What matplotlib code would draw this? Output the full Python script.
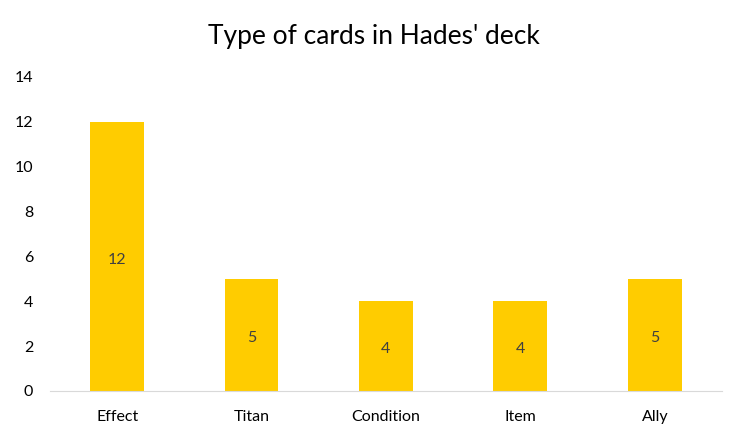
import matplotlib.pyplot as plt

# Data
categories = ["Effect", "Titan", "Condition", "Item", "Ally"]
counts = [12, 5, 4, 4, 5]
y_ticks = [0, 2, 4, 6, 8, 10, 12, 14]

bar_color = "#FFCC00"
text_color = "#404040"

plt.rcParams['font.family'] = ['Lato', 'DejaVu Sans']

fig = plt.figure(figsize=(7.47, 4.41), dpi=100)
ax = fig.add_axes([0.0669, 0.1134, 0.8996, 0.712])

x = range(len(categories))
bars = ax.bar(x, counts, width=0.4, color=bar_color, zorder=2)

# Value labels centred in each bar
for xi, v in zip(x, counts):
    ax.text(xi, v / 2 - 0.15, str(v), ha="center", va="center", fontsize=11.5, color=text_color)

ax.set_xlim(-0.5, len(categories) - 0.5)
ax.set_ylim(0, 14)
ax.set_xticks(list(x))
ax.set_xticklabels(categories, fontsize=11.5, color="#000000")
ax.set_yticks(y_ticks)
ax.set_yticklabels([str(t) for t in y_ticks], fontsize=11.5, color="#000000")
ax.tick_params(axis="both", length=0)
ax.tick_params(axis="y", pad=12)
ax.tick_params(axis="x", pad=14)

for side in ["top", "right", "left"]:
    ax.spines[side].set_visible(False)
ax.spines["bottom"].set_color("#D9D9D9")

fig.text(0.5, 0.918, "Type of cards in Hades' deck", ha="center", va="center", fontsize=19, color="#000000")

fig.savefig("out.png", dpi=100, facecolor="white")
